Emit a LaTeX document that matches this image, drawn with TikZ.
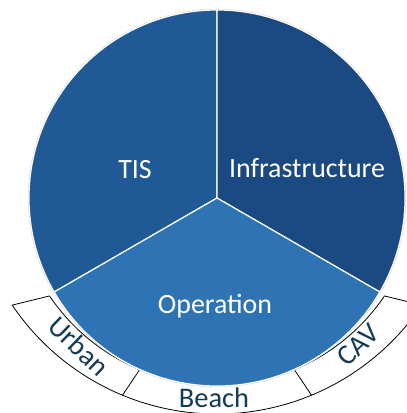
\documentclass[tikz,border=0pt]{standalone}
\usepackage{fontspec}
\setmainfont{Carlito}
\usetikzlibrary{calc}
\definecolor{tiscol}{HTML}{1F5A96}
\definecolor{infcol}{HTML}{1B4A82}
\definecolor{opcol}{HTML}{2E74B5}
\definecolor{bandtext}{HTML}{123B56}
\tikzset{
  sector/.style={draw=white, line width=1.2bp, line join=round},
  bigtext/.style={text=white, font=\fontsize{28}{30}\selectfont, inner sep=0pt, anchor=base},
  bandbox/.style={draw=black, fill=white, line width=0.8bp, line join=miter},
  bandlabel/.style={text=bandtext, font=\fontsize{28.5}{30}\selectfont, inner sep=0pt}
}
\begin{document}
\begin{tikzpicture}[x=1bp,y=1bp]
\useasboundingbox (0,0) rectangle (407,413);
\clip (0,0) rectangle (407,413);
\coordinate (c) at (217,215);
\coordinate (c1) at (217,230);
\coordinate (c2) at (217,246);
% outer band
\draw[bandbox] ($(c1)+(214:202)$) arc[start angle=214,end angle=326,radius=202bp]
  -- ($(c2)+(326:247)$) arc[start angle=326,end angle=214,radius=247bp] -- cycle;
\draw[line width=0.8bp] ($(c1)+(247.5:202)$) -- ($(c2)+(247.5:247)$);
\draw[line width=0.8bp] ($(c1)+(292.5:202)$) -- ($(c2)+(292.5:247)$);
% pie
\fill[gray!35] (c) circle[radius=189bp];
\filldraw[sector, fill=tiscol] (c) -- ++(90:188) arc[start angle=90,end angle=210,radius=188bp] -- cycle;
\filldraw[sector, fill=infcol] (c) -- ++(-30:188) arc[start angle=-30,end angle=90,radius=188bp] -- cycle;
\filldraw[sector, fill=opcol] (c) -- ++(210:188) arc[start angle=210,end angle=330,radius=188bp] -- cycle;
% labels
\node[bigtext] (tis) at (135,235) {TIS};
\node[bigtext] (inf) at (307,236) {Infrastructure};
\node[bigtext] (op) at (215,100) {Operation};
\node[bandlabel, rotate=-44] (urban) at (79,67) {Urban};
\node[bandlabel] (beach) at (214,15) {Beach};
\node[bandlabel, rotate=43] (cav) at (358,68) {CAV};
\end{tikzpicture}
\end{document}
